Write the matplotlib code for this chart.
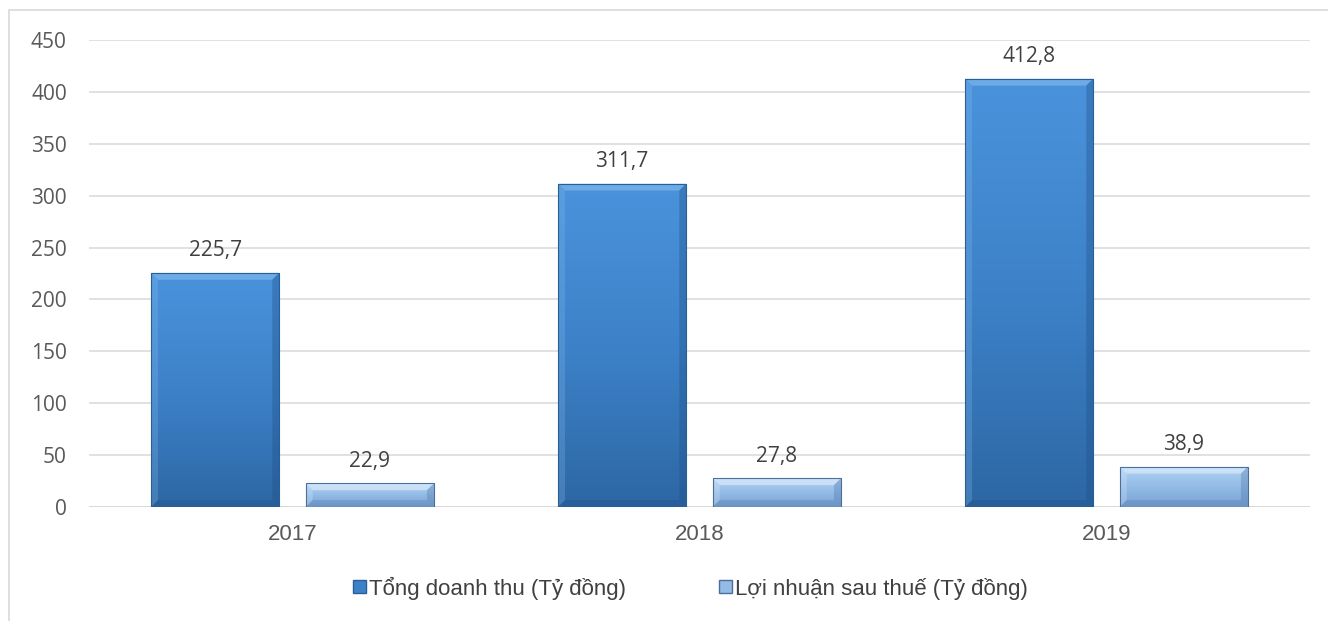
import numpy as np
import matplotlib
matplotlib.use("Agg")
import matplotlib.pyplot as plt
from matplotlib import font_manager
from matplotlib.patches import Rectangle, Polygon, Patch
from matplotlib.colors import LinearSegmentedColormap

years = ["2017", "2018", "2019"]
revenue = [225.7, 311.7, 412.8]
profit = [22.9, 27.8, 38.9]
series_names = ["Tổng doanh thu (Tỷ đồng)", "Lợi nhuận sau thuế (Tỷ đồng)"]

W, H = 1328, 621
fig = plt.figure(figsize=(W / 100, H / 100), dpi=100)
ax = fig.add_axes([89 / W, 1 - 507 / H, 1221 / W, 467 / H])

# outer chart frame
fig.patches.append(Rectangle((9 / W, -0.05), 1.1, 1 - 10 / H + 0.05,
                             transform=fig.transFigure, fill=False,
                             edgecolor="#d9d9d9", lw=1.2))

ax.set_xlim(-0.5, 2.5)
ax.set_ylim(0, 450)
ax.set_yticks(np.arange(0, 451, 50))
ax.yaxis.grid(True, color="#d9d9d9", lw=1.1)
ax.set_axisbelow(True)
for s in ax.spines.values():
    s.set_visible(False)
ax.axhline(0, color="#d9d9d9", lw=1.3, zorder=1)
ax.tick_params(length=0, labelsize=15, labelcolor="#595959")
ax.set_xticks(range(len(years)))
ax.set_xticklabels(years)
for lab in ax.get_yticklabels():
    lab.set_family("Open Sans")
for lab in ax.get_xticklabels():
    lab.set_family("Liberation Sans")
    lab.set_fontsize(16)
ax.tick_params(axis="x", pad=12)
ax.tick_params(axis="y", pad=16)

# pixel -> data scale for bevel sizes
px_x = 3.0 / 1221
px_y = 450.0 / 467

dark_cmap = LinearSegmentedColormap.from_list("d", ["#4a93dc", "#3d82c9", "#2d67a4"])
light_cmap = LinearSegmentedColormap.from_list("l", ["#b3d3f3", "#93bbe6", "#7aa2d2"])


def bevel_bar(x0, w, h, cmap, top_col, side_col, edge_col):
    rect = Rectangle((x0, 0), w, h, facecolor="none", edgecolor="none")
    ax.add_patch(rect)
    grad = np.linspace(0, 1, 256).reshape(-1, 1)
    im = ax.imshow(grad, cmap=cmap, aspect="auto", extent=(x0, x0 + w, 0, h),
                   origin="upper", zorder=2)
    im.set_clip_path(rect)
    b = 7
    bx, by = b * px_x, min(b * px_y, h / 3)
    # top and side facets
    ax.add_patch(Polygon([(x0, h), (x0 + w, h), (x0 + w - bx, h - by), (x0 + bx, h - by)],
                         closed=True, facecolor=top_col, edgecolor="none", alpha=0.55, zorder=3))
    ax.add_patch(Polygon([(x0, 0), (x0, h), (x0 + bx, h - by), (x0 + bx, by)],
                         closed=True, facecolor=top_col, edgecolor="none", alpha=0.25, zorder=3))
    ax.add_patch(Polygon([(x0 + w, 0), (x0 + w, h), (x0 + w - bx, h - by), (x0 + w - bx, by)],
                         closed=True, facecolor=side_col, edgecolor="none", alpha=0.35, zorder=3))
    ax.add_patch(Polygon([(x0, 0), (x0 + w, 0), (x0 + w - bx, by), (x0 + bx, by)],
                         closed=True, facecolor=side_col, edgecolor="none", alpha=0.3, zorder=3))
    ax.add_patch(Rectangle((x0, 0), w, h, facecolor="none", edgecolor=edge_col,
                           lw=0.8, zorder=4))


width = 0.315
offset = 0.19
x = np.arange(len(years))
for i in range(len(years)):
    bevel_bar(x[i] - offset - width / 2, width, revenue[i], dark_cmap,
              "#8cc0f0", "#1d4f85", "#2a5f96")
    bevel_bar(x[i] + offset - width / 2, width, profit[i], light_cmap,
              "#e6f2ff", "#4d78aa", "#4a6f9c")
    ax.text(x[i] - offset, revenue[i] + 11, f"{revenue[i]:.1f}".replace(".", ","),
            ha="center", va="bottom", fontsize=15, color="#404040", family="Open Sans")
    ax.text(x[i] + offset, profit[i] + 11, f"{profit[i]:.1f}".replace(".", ","),
            ha="center", va="bottom", fontsize=15, color="#404040", family="Open Sans")

# legend in a narrow face when one is available
names = {f.name for f in font_manager.fontManager.ttflist}
if "Liberation Sans Narrow" in names:
    leg_font = {"family": "Liberation Sans Narrow", "size": 19}
else:
    leg_font = {"family": "Liberation Sans", "size": 16}

handles = [Patch(facecolor="#3d82c9", edgecolor="#2a5f96"),
           Patch(facecolor="#93bbe6", edgecolor="#4a6f9c")]
fig.legend(handles, series_names, loc="center", bbox_to_anchor=(0.52, 1 - 588 / H),
           ncol=2, frameon=False, handlelength=0.55, handleheight=0.55,
           handletextpad=0.15, columnspacing=4.2,
           prop=leg_font, labelcolor="#404040")

fig.savefig("out.png", dpi=100)
